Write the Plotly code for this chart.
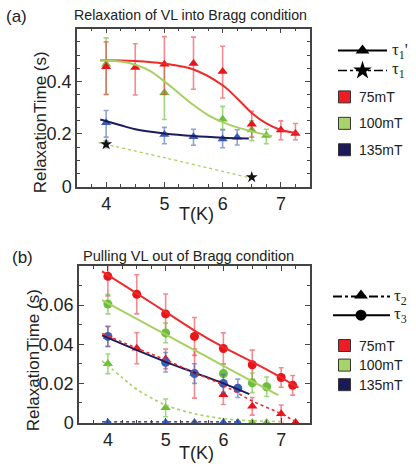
import plotly.graph_objects as go

# ---------------- data: panel (a) ----------------
a_red_T = [4, 4.5, 5, 5.5, 6, 6.5, 7, 7.25]
a_red_y = [0.455, 0.453, 0.465, 0.468, 0.437, 0.237, 0.215, 0.202]
a_red_up = [0.095, 0.09, 0.105, 0.10, 0.096, 0.049, 0.035, 0.038]
a_red_dn = [0.105, 0.105, 0.115, 0.098, 0.10, 0.049, 0.037, 0.024]
a_red_fitT = [3.9, 4.5, 5.0, 5.5, 6.0, 6.25, 6.5, 6.75, 7.0, 7.3]
a_red_fit = [0.48, 0.477, 0.467, 0.445, 0.385, 0.335, 0.28, 0.24, 0.215, 0.203]

a_grn_T = [4, 5, 6, 6.5, 6.75]
a_grn_y = [0.465, 0.357, 0.256, 0.215, 0.194]
a_grn_up = [0.1, 0.103, 0.049, 0.035, 0.024]
a_grn_dn = [0.115, 0.102, 0.038, 0.04, 0.031]
a_grn_fitT = [3.9, 4.25, 4.5, 4.75, 5.0, 5.25, 5.5, 5.75, 6.0, 6.25, 6.5, 6.85]
a_grn_fit = [0.48, 0.475, 0.463, 0.44, 0.40, 0.355, 0.31, 0.272, 0.245, 0.225, 0.21, 0.192]

a_blu_T = [4, 5, 5.5, 6, 6.25]
a_blu_y = [0.243, 0.198, 0.19, 0.181, 0.188]
a_blu_up = [0.046, 0.027, 0.028, 0.034, 0.028]
a_blu_dn = [0.055, 0.035, 0.033, 0.033, 0.03]
a_blu_fitT = [3.9, 4.25, 4.5, 5.0, 5.5, 6.0, 6.45]
a_blu_fit = [0.255, 0.233, 0.218, 0.202, 0.192, 0.186, 0.183]

a_star_T = [4, 6.5]
a_star_y = [0.161, 0.036]
a_star_err = [0.012, 0.0]
a_star_fitT = [3.87, 5.0, 6.42]
a_star_fit = [0.167, 0.11, 0.036]

# ---------------- data: panel (b) ----------------
b_red3_T = [4, 4.5, 5, 5.5, 6, 6.5, 7, 7.2]
b_red3_y = [0.0747, 0.0655, 0.0555, 0.044, 0.0378, 0.0295, 0.023, 0.019]
b_red3_err = [0.0100, 0.010, 0.0102, 0.0097, 0.008, 0.0075, 0.005, 0.005]
b_red3_fitT = [3.9, 4.5, 5.0, 5.5, 6.0, 6.5, 7.0, 7.3]
b_red3_fit = [0.0772, 0.066, 0.0565, 0.047, 0.0385, 0.031, 0.023, 0.0178]

b_red2_T = [4, 4.5, 5, 5.5, 6, 6.5, 7, 7.25]
b_red2_y = [0.044, 0.038, 0.0325, 0.025, 0.0142, 0.0083, 0.0045, 0.0]
b_red2_err = [0.005, 0.008, 0.005, 0.0125, 0.005, 0.0045, 0.0045, 0.0]
b_red2_fitT = [3.9, 4.5, 5.0, 5.5, 6.0, 6.5, 7.0, 7.25]
b_red2_fit = [0.0455, 0.038, 0.032, 0.0255, 0.019, 0.011, 0.0045, 0.0005]

b_grn3_T = [4, 5, 6, 6.5, 6.75]
b_grn3_y = [0.0605, 0.0458, 0.025, 0.0203, 0.0183]
b_grn3_err = [0.005, 0.005, 0.005, 0.005, 0.005]
b_grn3_fitT = [3.9, 4.5, 5.0, 5.5, 6.0, 6.5, 6.95]
b_grn3_fit = [0.0625, 0.053, 0.045, 0.037, 0.029, 0.021, 0.014]

b_grn2_T = [4, 5, 6.5, 6.75]
b_grn2_y = [0.030, 0.0075, 0.0, 0.0]
b_grn2_err = [0.005, 0.0045, 0.0, 0.0]
b_grn2_fitT = [3.9, 4.25, 4.5, 5.0, 5.5, 6.0, 6.5, 7.0]
b_grn2_fit = [0.0315, 0.023, 0.017, 0.009, 0.0045, 0.002, 0.0009, 0.0005]

b_blu3_T = [4, 5, 5.5, 6, 6.25]
b_blu3_y = [0.044, 0.0308, 0.025, 0.020, 0.0175]
b_blu3_err = [0.0052, 0.005, 0.005, 0.0045, 0.0047]
b_blu3_fitT = [3.9, 4.5, 5.0, 5.5, 6.0, 6.45]
b_blu3_fit = [0.0445, 0.037, 0.031, 0.0255, 0.020, 0.0145]

b_blu2_T = [4, 5, 5.5, 6, 6.25]
b_blu2_y = [0.0, 0.0, 0.0, 0.0, 0.0]
b_blu2_fitT = [3.9, 6.3]
b_blu2_fit = [0.0, 0.0]

# tick labels
a_yticks = [0, 0.2, 0.4]
b_yticks = [0, 0.02, 0.04, 0.06]
xticks = [4, 5, 6, 7]

# legend texts
field_labels = ["75mT", "100mT", "135mT"]

# ---------------- styles ----------------
RED_L, RED_M, RED_E = "#ee2a2a", "#e8141c", "rgba(235,60,70,0.6)"
GRN_L, GRN_M, GRN_E = "#a9cf62", "#6cbf3c", "rgba(110,190,60,0.65)"
BLU_L, BLU_M, BLU_E = "#1c1c5c", "#3a5cb4", "rgba(70,100,180,0.6)"
SANS = "Liberation Sans"
SERIF = "Liberation Serif"

fig = go.Figure()


def fit(x, y, color, dash, xa, ya, width=2):
    fig.add_trace(go.Scatter(x=x, y=y, mode="lines", line=dict(color=color, width=width, dash=dash, shape="spline"),
                             xaxis=xa, yaxis=ya, showlegend=False, hoverinfo="skip", cliponaxis=False))


def pts(x, y, up, dn, color, ecol, symbol, xa, ya, size=9):
    ey = None
    if up is not None:
        ey = dict(type="data", array=up, arrayminus=dn, color=ecol, thickness=1.6, width=2.5, visible=True)
    fig.add_trace(go.Scatter(x=x, y=y, mode="markers", marker=dict(color=color, symbol=symbol, size=size, line=dict(width=0)),
                             error_y=ey, xaxis=xa, yaxis=ya, showlegend=False, cliponaxis=False))


# panel (a)
pts(a_grn_T, a_grn_y, a_grn_up, a_grn_dn, GRN_M, GRN_E, "triangle-up", "x", "y")
pts(a_red_T, a_red_y, a_red_up, a_red_dn, RED_M, RED_E, "triangle-up", "x", "y")
pts(a_blu_T, a_blu_y, a_blu_up, a_blu_dn, BLU_M, BLU_E, "triangle-up", "x", "y")
fit(a_red_fitT, a_red_fit, RED_L, "solid", "x", "y")
fit(a_grn_fitT, a_grn_fit, GRN_L, "solid", "x", "y")
fit(a_blu_fitT, a_blu_fit, BLU_L, "solid", "x", "y")
fit(a_star_fitT, a_star_fit, GRN_L, "dot", "x", "y", width=1.3)
pts(a_star_T, a_star_y, a_star_err, a_star_err, "#111111", "rgba(120,120,120,0.7)", "star", "x", "y", size=9)

# panel (b)
pts(b_red3_T, b_red3_y, b_red3_err, b_red3_err, RED_M, RED_E, "circle", "x2", "y2")
pts(b_red2_T, b_red2_y, b_red2_err, b_red2_err, RED_M, RED_E, "triangle-up", "x2", "y2")
pts(b_grn3_T, b_grn3_y, b_grn3_err, b_grn3_err, GRN_M, GRN_E, "circle", "x2", "y2")
pts(b_grn2_T, b_grn2_y, b_grn2_err, b_grn2_err, GRN_M, GRN_E, "triangle-up", "x2", "y2")
pts(b_blu3_T, b_blu3_y, b_blu3_err, b_blu3_err, BLU_M, BLU_E, "circle", "x2", "y2")
fit(b_red3_fitT, b_red3_fit, RED_L, "solid", "x2", "y2")
fit(b_grn3_fitT, b_grn3_fit, GRN_L, "solid", "x2", "y2")
fit(b_blu3_fitT, b_blu3_fit, BLU_L, "solid", "x2", "y2")
fit(b_red2_fitT, b_red2_fit, RED_L, "dot", "x2", "y2", width=1.6)
fit(b_grn2_fitT, b_grn2_fit, GRN_L, "dot", "x2", "y2", width=1.6)
fit(b_blu2_fitT, b_blu2_fit, BLU_L, "dot", "x2", "y2", width=2.5)
pts(b_blu2_T, b_blu2_y, None, None, BLU_M, BLU_E, "triangle-up", "x2", "y2")

# ---------------- legends (on a pixel axis in the right-hand strip) ----------------
W, H = 416, 472
LX0 = 322
leg_a_line_y = [51.7, 72]
leg_b_line_y = [303, 322]
leg_x = [338, 387]
sq_x = 344.5
sq_a_y = [99, 126, 153]
sq_b_y = [353, 373, 393]
sq_cols = ["#ee1c24", "#a6d46a", "#1a1a5a"]

fig.add_trace(go.Scatter(x=leg_x, y=[leg_a_line_y[0]] * 2, mode="lines", line=dict(color="black", width=2),
                         xaxis="x3", yaxis="y3", showlegend=False))
fig.add_trace(go.Scatter(x=[sum(leg_x) / 2], y=[leg_a_line_y[0]], mode="markers",
                         marker=dict(symbol="triangle-up", size=12, color="black"), xaxis="x3", yaxis="y3", showlegend=False))
fig.add_trace(go.Scatter(x=leg_x, y=[leg_a_line_y[1]] * 2, mode="lines", line=dict(color="black", width=1.5, dash="dashdot"),
                         xaxis="x3", yaxis="y3", showlegend=False))
fig.add_trace(go.Scatter(x=[sum(leg_x) / 2], y=[leg_a_line_y[1]], mode="markers",
                         marker=dict(symbol="star", size=14, color="black"), xaxis="x3", yaxis="y3", showlegend=False))
fig.add_trace(go.Scatter(x=[333, 390], y=[leg_b_line_y[0]] * 2, mode="lines", line=dict(color="black", width=2, dash="dashdot"),
                         xaxis="x3", yaxis="y3", showlegend=False))
fig.add_trace(go.Scatter(x=[361], y=[leg_b_line_y[0] - 1], mode="markers",
                         marker=dict(symbol="triangle-up", size=12, color="black"), xaxis="x3", yaxis="y3", showlegend=False))
fig.add_trace(go.Scatter(x=[333, 390], y=[leg_b_line_y[1]] * 2, mode="lines", line=dict(color="black", width=2),
                         xaxis="x3", yaxis="y3", showlegend=False))
fig.add_trace(go.Scatter(x=[361], y=[leg_b_line_y[1]], mode="markers",
                         marker=dict(symbol="circle", size=11, color="black"), xaxis="x3", yaxis="y3", showlegend=False))
for ys in (sq_a_y, sq_b_y):
    fig.add_trace(go.Scatter(x=[sq_x] * 3, y=ys, mode="markers",
                             marker=dict(symbol="square", size=12, color=sq_cols, line=dict(color="#333", width=1)),
                             xaxis="x3", yaxis="y3", showlegend=False))

ann = []
tau_labels = [("τ<sub>1</sub>'", 390, leg_a_line_y[0]), ("τ<sub>1</sub>", 390, leg_a_line_y[1]),
              ("τ<sub>2</sub>", 392, leg_b_line_y[0]), ("τ<sub>3</sub>", 392, leg_b_line_y[1])]
for t, x, y in tau_labels:
    ann.append(dict(text=t, x=x, y=y, xref="x3", yref="y3", xanchor="left", yanchor="middle", showarrow=False,
                    font=dict(family=SERIF, size=17, color="#222")))
for ys in (sq_a_y, sq_b_y):
    for lab, y in zip(field_labels, ys):
        ann.append(dict(text=lab, x=357, y=y, xref="x3", yref="y3", xanchor="left", yanchor="middle", showarrow=False,
                        font=dict(family=SANS, size=14, color="#222")))

# titles / labels
ann += [
    dict(text="(a)", x=4 / W, y=1 - 17 / H, xanchor="left", yanchor="middle", font=dict(family=SANS, size=17, color="#222")),
    dict(text="Relaxation of VL into Bragg condition", x=190 / W, y=1 - 15 / H, xanchor="center", yanchor="middle",
         font=dict(family=SANS, size=14.2, color="#222")),
    dict(text="(b)", x=10 / W, y=1 - 263 / H, xanchor="left", yanchor="middle", font=dict(family=SANS, size=17, color="#222")),
    dict(text="Pulling VL out of Bragg condition", x=188 / W, y=1 - 262 / H, xanchor="center", yanchor="middle",
         font=dict(family=SANS, size=14.6, color="#222")),
    dict(text="RelaxationTime (s)", x=40 / W, y=1 - 125 / H, textangle=-90, xanchor="center", yanchor="middle",
         font=dict(family=SANS, size=17, color="#222")),
    dict(text="RelaxationTime (s)", x=33 / W, y=1 - 368 / H, textangle=-90, xanchor="center", yanchor="middle",
         font=dict(family=SANS, size=17, color="#222")),
    dict(text="T(K)", x=196 / W, y=1 - 219 / H, xanchor="center", yanchor="middle", font=dict(family=SANS, size=18, color="#222")),
    dict(text="T(K)", x=196 / W, y=1 - 463 / H, xanchor="center", yanchor="middle", font=dict(family=SANS, size=18, color="#222")),
]
for a in ann:
    a.setdefault("xref", "paper")
    a.setdefault("yref", "paper")
    a["showarrow"] = False

axcommon = dict(showline=True, linecolor="#444", linewidth=1.5, mirror="ticks", ticks="inside", ticklen=5,
                tickcolor="#444", showgrid=False, zeroline=False, tickfont=dict(family=SANS, size=18, color="#222"))

fig.update_layout(
    width=W, height=H, margin=dict(l=0, r=0, t=0, b=0),
    paper_bgcolor="white", plot_bgcolor="rgba(0,0,0,0)", showlegend=False,
    annotations=ann,
    xaxis=dict(domain=[77 / W, 310 / W], range=[3.5, 7.5], tickvals=xticks, anchor="y",
               minor=dict(dtick=0.25, ticks="inside", ticklen=3, tickcolor="#444"), **axcommon),
    yaxis=dict(domain=[1 - 190.7 / H, 1 - 29.3 / H], range=[0, 0.6], tickvals=a_yticks, anchor="x",
               minor=dict(dtick=0.05, ticks="inside", ticklen=3, tickcolor="#444"), **axcommon),
    xaxis2=dict(domain=[79 / W, 310 / W], range=[3.5, 7.5], tickvals=xticks, anchor="y2",
                minor=dict(dtick=0.25, ticks="inside", ticklen=3, tickcolor="#444"), **axcommon),
    yaxis2=dict(domain=[1 - 431.7 / H, 1 - 271.7 / H], range=[0, 0.08], tickvals=b_yticks, anchor="x2",
                minor=dict(dtick=0.01, ticks="inside", ticklen=3, tickcolor="#444"), **axcommon),
    xaxis3=dict(domain=[LX0 / W, 1], range=[LX0, W], visible=False, anchor="y3"),
    yaxis3=dict(domain=[0, 1], range=[H, 0], visible=False, anchor="x3"),
)

fig.write_html("out.html")
